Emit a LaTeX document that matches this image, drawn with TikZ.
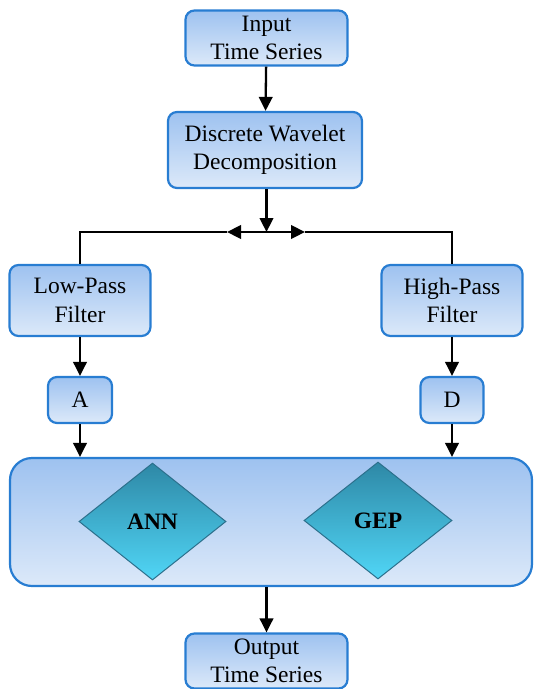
\documentclass[tikz,border=0pt]{standalone}
\usepackage{fontspec}
\setmainfont{Liberation Serif}
\usetikzlibrary{arrows.meta,shapes.geometric}

\definecolor{boxline}{RGB}{40,125,210}
\definecolor{boxtop}{RGB}{158,194,240}
\definecolor{boxbot}{RGB}{220,233,249}
\definecolor{dialine}{RGB}{44,112,140}
\definecolor{diatop}{RGB}{46,136,166}
\definecolor{diabot}{RGB}{80,214,246}

\tikzset{
  stage/.style={draw=boxline, line width=2.2pt, rounded corners=9pt,
    top color=boxtop, bottom color=boxbot, align=center,
    inner sep=0pt, font=\fontsize{23.5}{28.5}\selectfont},
  model/.style={diamond, draw=dialine, line width=1pt,
    top color=diatop, bottom color=diabot, inner sep=0pt,
    font=\fontsize{23.5}{28}\selectfont\bfseries},
  flow/.style={line width=2.3pt, -{Triangle[length=14pt,width=13.5pt]}},
  branch/.style={line width=1.3pt}
}

\begin{document}
\begin{tikzpicture}[x=1pt,y=-1pt]
  \useasboundingbox (0,0) rectangle (534,689);

  % processing stages
  \node[stage, minimum width=162pt, minimum height=55pt] (in) at (266.5,38) {Input\\Time Series};
  \node[stage, minimum width=194pt, minimum height=76pt] (dwt) at (265,150) {Discrete Wavelet\\Decomposition};
  \node[stage, minimum width=141pt, minimum height=71pt] (low) at (80,300.5) {Low-Pass\\Filter};
  \node[stage, minimum width=141pt, minimum height=71pt] (high) at (452,300.5) {High-Pass\\Filter};
  \node[stage, minimum width=64pt, minimum height=46pt] (a) at (80,400) {A};
  \node[stage, minimum width=63pt, minimum height=46pt] (d) at (452,400) {D};
  \node[stage, rounded corners=22pt, minimum width=522pt, minimum height=128pt] (models) at (271,522) {};
  \node[stage, minimum width=162pt, minimum height=55pt] (out) at (266.5,661) {Output\\Time Series};

  % models inside the container
  \node[model, minimum width=147pt, minimum height=117pt] (ann) at (152.5,521.5) {ANN};
  \node[model, minimum width=148pt, minimum height=117pt] (gep) at (378,520.5) {GEP};

  % split point
  \coordinate (split) at (266.5,232);
  \coordinate (lt) at (227,232);
  \coordinate (rt) at (305,232);

  % connectors
  \draw[flow] (in) -- (dwt);
  \draw[flow] (dwt.south -| split) -- (split);
  \draw[flow] (split) -- (lt);
  \draw[flow] (split) -- (rt);
  \draw[branch] (lt) -| (low.north);
  \draw[branch] (rt) -| (high.north);
  \draw[flow] (low) -- (a);
  \draw[flow] (high) -- (d);
  \draw[flow] (a) -- (a |- models.north);
  \draw[flow] (d) -- (d |- models.north);
  \draw[flow] (models.south -| out) -- (out);
\end{tikzpicture}
\end{document}
